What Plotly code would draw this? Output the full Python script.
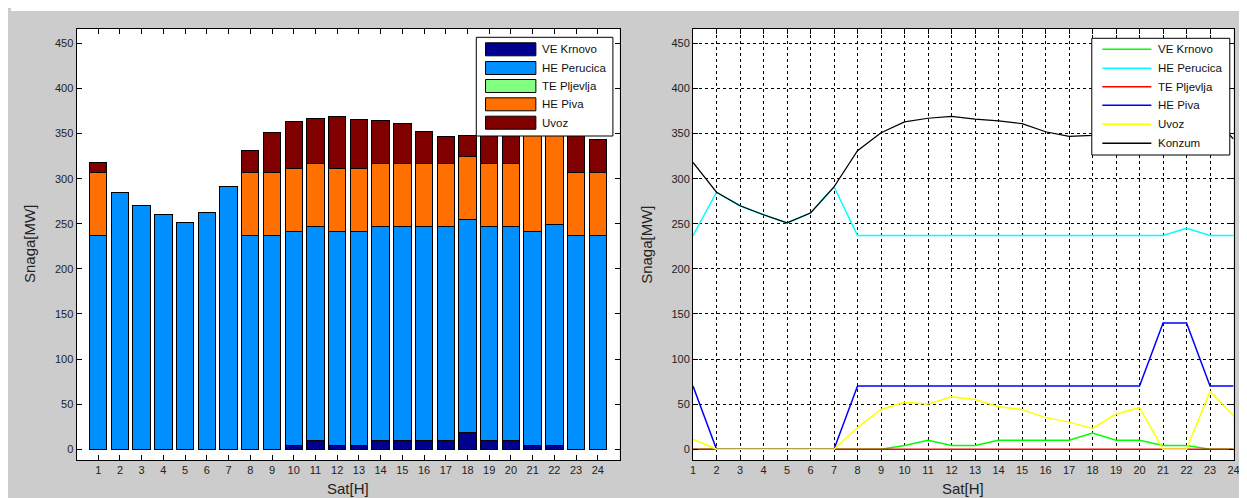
import plotly.graph_objects as go

# The page body has an 8px margin, so the figure starts at (8, 8) in the window.
OFF = 8
W, H = 1247 - OFF, 498 - OFF

hours = list(range(1, 25))
hour_labels = [str(h) for h in hours]
ve_krnovo = [0, 0, 0, 0, 0, 0, 0, 0, 0, 4, 10, 4, 4, 10, 10, 10, 10, 18, 10, 10, 4, 4, 0, 0]
he_perucica = [237, 285, 270, 260, 251, 262, 291, 237, 237, 237, 237, 237, 237, 237, 237, 237, 237, 237, 237, 237, 237, 245, 237, 237]
te_pljevlja = [0, 0, 0, 0, 0, 0, 0, 0, 0, 0, 0, 0, 0, 0, 0, 0, 0, 0, 0, 0, 0, 0, 0, 0]
he_piva = [70, 0, 0, 0, 0, 0, 0, 70, 70, 70, 70, 70, 70, 70, 70, 70, 70, 70, 70, 70, 140, 140, 70, 70]
uvoz = [11, 0, 0, 0, 0, 0, 0, 24, 44, 52, 50, 58, 55, 47, 44, 35, 30, 23, 39, 46, 0, 0, 64, 37]
konzum = [318, 285, 270, 260, 251, 262, 291, 331, 351, 363, 367, 369, 366, 364, 361, 352, 347, 348, 356, 363, 381, 389, 371, 344]
y_ticks = [0, 50, 100, 150, 200, 250, 300, 350, 400, 450]

bar_series = ["VE Krnovo", "HE Perucica", "TE Pljevlja", "HE Piva", "Uvoz"]
bar_values = [ve_krnovo, he_perucica, te_pljevlja, he_piva, uvoz]
bar_colors = ["#00008F", "#008FFF", "#80FF80", "#FF7000", "#800000"]

line_series = ["VE Krnovo", "HE Perucica", "TE Pljevlja", "HE Piva", "Uvoz", "Konzum"]
line_values = [ve_krnovo, he_perucica, te_pljevlja, he_piva, uvoz, konzum]
line_colors = ["#00FF00", "#00FFFF", "#FF0000", "#0000FF", "#FFFF00", "#000000"]


def px(x):
    """page x (window pixels) -> paper fraction"""
    return (x - OFF) / W


def py(y):
    """page y (window pixels) -> paper fraction"""
    return 1 - (y - OFF) / H


FONT = "Liberation Sans, Arial, sans-serif"

fig = go.Figure()

for name, vals, col in zip(bar_series, bar_values, bar_colors):
    fig.add_trace(go.Bar(x=hours, y=vals, name=name, marker=dict(color=col, line=dict(color="black", width=1)),
                         width=0.8, showlegend=False, xaxis="x", yaxis="y"))

for name, vals, col in zip(line_series, line_values, line_colors):
    fig.add_trace(go.Scatter(x=hours, y=vals, name=name, mode="lines",
                             line=dict(color=col, width=1.5 if col != "#000000" else 1.2),
                             showlegend=False, xaxis="x2", yaxis="y2"))

# plot areas in window px
L = dict(x0=74, x1=621, y0=29, y1=460)
R = dict(x0=695, x1=1239.5, y0=29, y1=460)

axis_common = dict(showline=True, linecolor="black", linewidth=1, mirror="ticks", ticks="inside",
                   ticklen=5, tickcolor="black", zeroline=False,
                   tickfont=dict(family=FONT, size=11, color="#222"))

fig.update_layout(
    width=W, height=H, margin=dict(l=0, r=0, t=0, b=0),
    paper_bgcolor="#CCCCCC", plot_bgcolor="white", barmode="stack", bargap=0.2,
    xaxis=dict(domain=[px(L["x0"]), px(L["x1"])], range=[0, 25], tickvals=hours, ticktext=hour_labels,
               showgrid=False, anchor="y", **axis_common),
    yaxis=dict(domain=[py(L["y1"]), py(L["y0"])], range=[-12, 466], tickvals=y_ticks,
               showgrid=False, anchor="x", **axis_common),
    xaxis2=dict(domain=[px(R["x0"]), px(R["x1"])], range=[1, 24], tickvals=hours, ticktext=hour_labels,
                showgrid=True, gridcolor="black", gridwidth=1, griddash="3px,3px", anchor="y2",
                **axis_common),
    yaxis2=dict(domain=[py(R["y1"]), py(R["y0"])], range=[-12, 466], tickvals=y_ticks,
                showgrid=True, gridcolor="black", gridwidth=1, griddash="3px,3px", anchor="x2", **axis_common),
    showlegend=False,
)

shapes = []
annotations = []

# thin white strip at the top (gray area starts at y=11 in the window)
shapes.append(dict(type="rect", xref="paper", yref="paper", x0=0, x1=1, y0=py(11), y1=1,
                   fillcolor="white", line=dict(width=0), layer="below"))

# axis titles
for cx in [26.7, 648]:
    annotations.append(dict(text="Snaga[MW]", xref="paper", yref="paper", x=px(cx), y=py(244.5),
                            showarrow=False, textangle=-90, xanchor="center", yanchor="middle",
                            font=dict(family=FONT, size=15, color="#222")))
for cx in [(L["x0"] + L["x1"]) / 2, (R["x0"] + R["x1"]) / 2]:
    annotations.append(dict(text="Sat[H]", xref="paper", yref="paper", x=px(cx), y=py(488.5),
                            showarrow=False, xanchor="center", yanchor="middle",
                            font=dict(family=FONT, size=15, color="#222")))

# left legend (bar swatches)
shapes.append(dict(type="rect", xref="paper", yref="paper", x0=px(476.7), x1=px(614.3), y0=py(136), y1=py(37.3),
                   fillcolor="white", line=dict(color="black", width=1), layer="above"))
rows_l = [49.3, 68.0, 86.0, 104.3, 122.7]
for name, col, ry in zip(bar_series, bar_colors, rows_l):
    shapes.append(dict(type="rect", xref="paper", yref="paper", x0=px(486), x1=px(536.7),
                       y0=py(ry + 6.5), y1=py(ry - 6.5), fillcolor=col,
                       line=dict(color="black", width=1), layer="above"))
    annotations.append(dict(text=name, xref="paper", yref="paper", x=px(540.5), y=py(ry),
                            showarrow=False, xanchor="left", yanchor="middle",
                            font=dict(family=FONT, size=11.5, color="#111")))

# right legend (line samples)
shapes.append(dict(type="rect", xref="paper", yref="paper", x0=px(1096.7), x1=px(1235.7), y0=py(155), y1=py(38.3),
                   fillcolor="white", line=dict(color="black", width=1), layer="above"))
rows_r = [49.3, 68.3, 86.7, 105.3, 124.3, 143.3]
for name, col, ry in zip(line_series, line_colors, rows_r):
    shapes.append(dict(type="line", xref="paper", yref="paper", x0=px(1107.3), x1=px(1156.7),
                       y0=py(ry), y1=py(ry), line=dict(color=col, width=1.5), layer="above"))
    annotations.append(dict(text=name, xref="paper", yref="paper", x=px(1161), y=py(ry),
                            showarrow=False, xanchor="left", yanchor="middle",
                            font=dict(family=FONT, size=11.5, color="#111")))

fig.update_layout(shapes=shapes, annotations=annotations)

fig.write_html("out.html")
